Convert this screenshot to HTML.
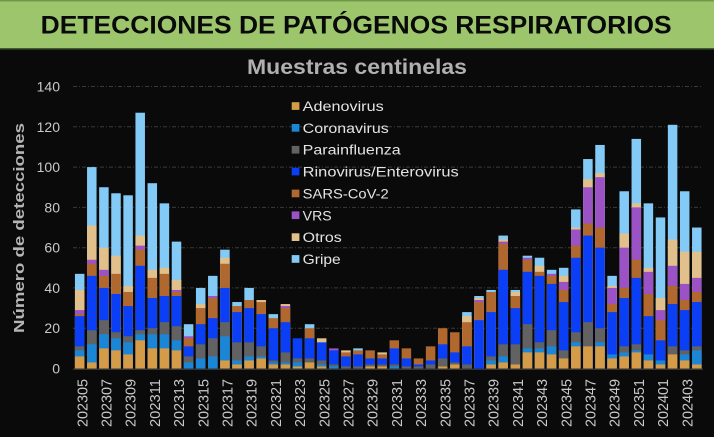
<!DOCTYPE html>
<html><head><meta charset="utf-8">
<style>
html,body{margin:0;padding:0;background:#0a0a0a;}
body{width:714px;height:437px;overflow:hidden;}
svg{display:block;}
.a{fill:#d49c48}.c{fill:#1b86d6}.p{fill:#626262}.r{fill:#0b3ff5}.s{fill:#b0682e}.v{fill:#9b52c4}.o{fill:#e2c08c}.g{fill:#84caf6}
.t{font-family:"Liberation Sans",sans-serif;}
</style></head>
<body>
<svg width="714" height="437" viewBox="0 0 714 437" xmlns="http://www.w3.org/2000/svg">
<rect x="0" y="0" width="714" height="437" fill="#0a0a0a"/>
<rect x="0" y="0" width="714" height="48.5" fill="#9dc66c"/>
<rect x="0" y="0" width="714" height="1.5" fill="#6f9a4b"/>
<rect x="0" y="48" width="714" height="1.5" fill="#3f5c2c"/>
<text class="t" x="40.7" y="33.3" font-size="25" font-weight="bold" fill="#0a0a0a" textLength="631" lengthAdjust="spacingAndGlyphs">DETECCIONES DE PATÓGENOS RESPIRATORIOS</text>
<text class="t" x="247" y="74" font-size="21" font-weight="bold" fill="#b0b0b0" textLength="220" lengthAdjust="spacingAndGlyphs">Muestras centinelas</text>

<g stroke="#3a3a3a" stroke-width="1" stroke-dasharray="4 2 1 2" fill="none">
<line x1="73" y1="86.5" x2="702" y2="86.5"/>
<line x1="73" y1="126.8" x2="702" y2="126.8"/>
<line x1="73" y1="167.1" x2="702" y2="167.1"/>
<line x1="73" y1="207.4" x2="702" y2="207.4"/>
<line x1="73" y1="247.7" x2="702" y2="247.7"/>
<line x1="73" y1="287.9" x2="702" y2="287.9"/>
<line x1="73" y1="328.2" x2="702" y2="328.2"/>
</g>

<g class="t" font-size="14" fill="#c8c8c8" text-anchor="end">
<text x="60" y="91.5">140</text>
<text x="60" y="131.8">120</text>
<text x="60" y="172.1">100</text>
<text x="60" y="212.4">80</text>
<text x="60" y="252.7">60</text>
<text x="60" y="292.9">40</text>
<text x="60" y="333.2">20</text>
<text x="60" y="373.5">0</text>
</g>

<text class="t" transform="translate(24 228) rotate(-90)" text-anchor="middle" font-size="15" font-weight="bold" fill="#b5b5b5" textLength="210" lengthAdjust="spacingAndGlyphs">Número de detecciones</text>

<g transform="translate(74.95 368.5) scale(1 -2.014)">
<rect x="0" width="9.5" height="47" class="g"/><rect x="0" width="9.5" height="39" class="o"/><rect x="0" width="9.5" height="29" class="v"/><rect x="0" width="9.5" height="27" class="s"/><rect x="0" width="9.5" height="26" class="r"/><rect x="0" width="9.5" height="11" class="p"/><rect x="0" width="9.5" height="9" class="c"/><rect x="0" width="9.5" height="6" class="a"/>
<rect x="12.1" width="9.5" height="100" class="g"/><rect x="12.1" width="9.5" height="71" class="o"/><rect x="12.1" width="9.5" height="54" class="v"/><rect x="12.1" width="9.5" height="52" class="s"/><rect x="12.1" width="9.5" height="46" class="r"/><rect x="12.1" width="9.5" height="19" class="p"/><rect x="12.1" width="9.5" height="12" class="c"/><rect x="12.1" width="9.5" height="3" class="a"/>
<rect x="24.2" width="9.5" height="90" class="g"/><rect x="24.2" width="9.5" height="60" class="o"/><rect x="24.2" width="9.5" height="49" class="v"/><rect x="24.2" width="9.5" height="46" class="s"/><rect x="24.2" width="9.5" height="40" class="r"/><rect x="24.2" width="9.5" height="24" class="p"/><rect x="24.2" width="9.5" height="17" class="c"/><rect x="24.2" width="9.5" height="10" class="a"/>
<rect x="36.3" width="9.5" height="87" class="g"/><rect x="36.3" width="9.5" height="56" class="o"/><rect x="36.3" width="9.5" height="47" class="s"/><rect x="36.3" width="9.5" height="37" class="r"/><rect x="36.3" width="9.5" height="18" class="p"/><rect x="36.3" width="9.5" height="15" class="c"/><rect x="36.3" width="9.5" height="9" class="a"/>
<rect x="48.4" width="9.5" height="86" class="g"/><rect x="48.4" width="9.5" height="41" class="o"/><rect x="48.4" width="9.5" height="38" class="s"/><rect x="48.4" width="9.5" height="31" class="r"/><rect x="48.4" width="9.5" height="16" class="p"/><rect x="48.4" width="9.5" height="13" class="c"/><rect x="48.4" width="9.5" height="7" class="a"/>
<rect x="60.5" width="9.5" height="127" class="g"/><rect x="60.5" width="9.5" height="66" class="o"/><rect x="60.5" width="9.5" height="61" class="v"/><rect x="60.5" width="9.5" height="59" class="s"/><rect x="60.5" width="9.5" height="51" class="r"/><rect x="60.5" width="9.5" height="19" class="p"/><rect x="60.5" width="9.5" height="17" class="c"/><rect x="60.5" width="9.5" height="14" class="a"/>
<rect x="72.6" width="9.5" height="92" class="g"/><rect x="72.6" width="9.5" height="49" class="o"/><rect x="72.6" width="9.5" height="45" class="s"/><rect x="72.6" width="9.5" height="35" class="r"/><rect x="72.6" width="9.5" height="20" class="p"/><rect x="72.6" width="9.5" height="17" class="c"/><rect x="72.6" width="9.5" height="10" class="a"/>
<rect x="84.7" width="9.5" height="82" class="g"/><rect x="84.7" width="9.5" height="50" class="o"/><rect x="84.7" width="9.5" height="47" class="s"/><rect x="84.7" width="9.5" height="36" class="r"/><rect x="84.7" width="9.5" height="23" class="p"/><rect x="84.7" width="9.5" height="17" class="c"/><rect x="84.7" width="9.5" height="10" class="a"/>
<rect x="96.8" width="9.5" height="63" class="g"/><rect x="96.8" width="9.5" height="44" class="o"/><rect x="96.8" width="9.5" height="39" class="v"/><rect x="96.8" width="9.5" height="38" class="s"/><rect x="96.8" width="9.5" height="36" class="r"/><rect x="96.8" width="9.5" height="21" class="p"/><rect x="96.8" width="9.5" height="14" class="c"/><rect x="96.8" width="9.5" height="9" class="a"/>
<rect x="108.9" width="9.5" height="22" class="g"/><rect x="108.9" width="9.5" height="16" class="v"/><rect x="108.9" width="9.5" height="15" class="s"/><rect x="108.9" width="9.5" height="11" class="r"/><rect x="108.9" width="9.5" height="6" class="p"/><rect x="108.9" width="9.5" height="3" class="c"/>
<rect x="121" width="9.5" height="40" class="g"/><rect x="121" width="9.5" height="32" class="o"/><rect x="121" width="9.5" height="30" class="s"/><rect x="121" width="9.5" height="22" class="r"/><rect x="121" width="9.5" height="12" class="p"/><rect x="121" width="9.5" height="5" class="c"/>
<rect x="133.1" width="9.5" height="46" class="g"/><rect x="133.1" width="9.5" height="36" class="v"/><rect x="133.1" width="9.5" height="35" class="s"/><rect x="133.1" width="9.5" height="25" class="r"/><rect x="133.1" width="9.5" height="15" class="p"/><rect x="133.1" width="9.5" height="6" class="c"/>
<rect x="145.2" width="9.5" height="59" class="g"/><rect x="145.2" width="9.5" height="55" class="o"/><rect x="145.2" width="9.5" height="52" class="s"/><rect x="145.2" width="9.5" height="40" class="r"/><rect x="145.2" width="9.5" height="23" class="p"/><rect x="145.2" width="9.5" height="16" class="c"/><rect x="145.2" width="9.5" height="4" class="a"/>
<rect x="157.3" width="9.5" height="33" class="g"/><rect x="157.3" width="9.5" height="31" class="s"/><rect x="157.3" width="9.5" height="28" class="r"/><rect x="157.3" width="9.5" height="13" class="p"/><rect x="157.3" width="9.5" height="4" class="c"/><rect x="157.3" width="9.5" height="2" class="a"/>
<rect x="169.4" width="9.5" height="40" class="g"/><rect x="169.4" width="9.5" height="34" class="s"/><rect x="169.4" width="9.5" height="30" class="r"/><rect x="169.4" width="9.5" height="13" class="p"/><rect x="169.4" width="9.5" height="6" class="c"/><rect x="169.4" width="9.5" height="4" class="a"/>
<rect x="181.5" width="9.5" height="34" class="o"/><rect x="181.5" width="9.5" height="33" class="s"/><rect x="181.5" width="9.5" height="27" class="r"/><rect x="181.5" width="9.5" height="11" class="p"/><rect x="181.5" width="9.5" height="6" class="c"/><rect x="181.5" width="9.5" height="5" class="a"/>
<rect x="193.6" width="9.5" height="27" class="g"/><rect x="193.6" width="9.5" height="25" class="s"/><rect x="193.6" width="9.5" height="20" class="r"/><rect x="193.6" width="9.5" height="4" class="p"/><rect x="193.6" width="9.5" height="3" class="c"/><rect x="193.6" width="9.5" height="2" class="a"/>
<rect x="205.7" width="9.5" height="32" class="o"/><rect x="205.7" width="9.5" height="31" class="v"/><rect x="205.7" width="9.5" height="30" class="s"/><rect x="205.7" width="9.5" height="23" class="r"/><rect x="205.7" width="9.5" height="8" class="p"/><rect x="205.7" width="9.5" height="3" class="c"/><rect x="205.7" width="9.5" height="2" class="a"/>
<rect x="217.8" width="9.5" height="15" class="r"/><rect x="217.8" width="9.5" height="5" class="p"/><rect x="217.8" width="9.5" height="3" class="c"/><rect x="217.8" width="9.5" height="1" class="a"/>
<rect x="229.9" width="9.5" height="22" class="g"/><rect x="229.9" width="9.5" height="20" class="s"/><rect x="229.9" width="9.5" height="15" class="r"/><rect x="229.9" width="9.5" height="5" class="p"/><rect x="229.9" width="9.5" height="3" class="a"/>
<rect x="242" width="9.5" height="15" class="o"/><rect x="242" width="9.5" height="13" class="r"/><rect x="242" width="9.5" height="4" class="p"/><rect x="242" width="9.5" height="2" class="c"/><rect x="242" width="9.5" height="1" class="a"/>
<rect x="254.1" width="9.5" height="10" class="v"/><rect x="254.1" width="9.5" height="9" class="r"/><rect x="254.1" width="9.5" height="2" class="p"/><rect x="254.1" width="9.5" height="1" class="c"/>
<rect x="266.2" width="9.5" height="9" class="o"/><rect x="266.2" width="9.5" height="8" class="s"/><rect x="266.2" width="9.5" height="6" class="r"/><rect x="266.2" width="9.5" height="1" class="p"/>
<rect x="278.3" width="9.5" height="10" class="g"/><rect x="278.3" width="9.5" height="9" class="s"/><rect x="278.3" width="9.5" height="7" class="r"/><rect x="278.3" width="9.5" height="1" class="p"/>
<rect x="290.4" width="9.5" height="9" class="s"/><rect x="290.4" width="9.5" height="5" class="r"/><rect x="290.4" width="9.5" height="2" class="p"/><rect x="290.4" width="9.5" height="1" class="a"/>
<rect x="302.5" width="9.5" height="8" class="o"/><rect x="302.5" width="9.5" height="7" class="s"/><rect x="302.5" width="9.5" height="5" class="r"/><rect x="302.5" width="9.5" height="2" class="p"/><rect x="302.5" width="9.5" height="1" class="a"/>
<rect x="314.6" width="9.5" height="14" class="s"/><rect x="314.6" width="9.5" height="10" class="r"/><rect x="314.6" width="9.5" height="2" class="p"/><rect x="314.6" width="9.5" height="1" class="c"/>
<rect x="326.7" width="9.5" height="10" class="s"/><rect x="326.7" width="9.5" height="5" class="r"/><rect x="326.7" width="9.5" height="1" class="p"/>
<rect x="338.8" width="9.5" height="5" class="s"/><rect x="338.8" width="9.5" height="2" class="r"/><rect x="338.8" width="9.5" height="1" class="p"/>
<rect x="350.9" width="9.5" height="11" class="s"/><rect x="350.9" width="9.5" height="4" class="r"/><rect x="350.9" width="9.5" height="2" class="p"/>
<rect x="363" width="9.5" height="20" class="s"/><rect x="363" width="9.5" height="12" class="r"/><rect x="363" width="9.5" height="5" class="p"/><rect x="363" width="9.5" height="1" class="a"/>
<rect x="375.1" width="9.5" height="18" class="s"/><rect x="375.1" width="9.5" height="8" class="r"/><rect x="375.1" width="9.5" height="3" class="p"/><rect x="375.1" width="9.5" height="2" class="a"/>
<rect x="387.2" width="9.5" height="28" class="g"/><rect x="387.2" width="9.5" height="26" class="o"/><rect x="387.2" width="9.5" height="23" class="s"/><rect x="387.2" width="9.5" height="11" class="r"/><rect x="387.2" width="9.5" height="2" class="p"/>
<rect x="399.3" width="9.5" height="36" class="g"/><rect x="399.3" width="9.5" height="35" class="o"/><rect x="399.3" width="9.5" height="34" class="v"/><rect x="399.3" width="9.5" height="33" class="s"/><rect x="399.3" width="9.5" height="24" class="r"/>
<rect x="411.4" width="9.5" height="39" class="g"/><rect x="411.4" width="9.5" height="38" class="s"/><rect x="411.4" width="9.5" height="28" class="r"/><rect x="411.4" width="9.5" height="6" class="p"/><rect x="411.4" width="9.5" height="4" class="c"/><rect x="411.4" width="9.5" height="2" class="a"/>
<rect x="423.5" width="9.5" height="66" class="g"/><rect x="423.5" width="9.5" height="64" class="o"/><rect x="423.5" width="9.5" height="63" class="v"/><rect x="423.5" width="9.5" height="62" class="s"/><rect x="423.5" width="9.5" height="49" class="r"/><rect x="423.5" width="9.5" height="12" class="p"/><rect x="423.5" width="9.5" height="6" class="c"/><rect x="423.5" width="9.5" height="3" class="a"/>
<rect x="435.6" width="9.5" height="39" class="g"/><rect x="435.6" width="9.5" height="38" class="o"/><rect x="435.6" width="9.5" height="36" class="s"/><rect x="435.6" width="9.5" height="30" class="r"/><rect x="435.6" width="9.5" height="12" class="p"/><rect x="435.6" width="9.5" height="2" class="a"/>
<rect x="447.7" width="9.5" height="56" class="g"/><rect x="447.7" width="9.5" height="55" class="v"/><rect x="447.7" width="9.5" height="54" class="s"/><rect x="447.7" width="9.5" height="48" class="r"/><rect x="447.7" width="9.5" height="22" class="p"/><rect x="447.7" width="9.5" height="10" class="c"/><rect x="447.7" width="9.5" height="8" class="a"/>
<rect x="459.8" width="9.5" height="55" class="g"/><rect x="459.8" width="9.5" height="51" class="o"/><rect x="459.8" width="9.5" height="48" class="s"/><rect x="459.8" width="9.5" height="46" class="r"/><rect x="459.8" width="9.5" height="13" class="p"/><rect x="459.8" width="9.5" height="10" class="c"/><rect x="459.8" width="9.5" height="8" class="a"/>
<rect x="471.9" width="9.5" height="49" class="g"/><rect x="471.9" width="9.5" height="47" class="v"/><rect x="471.9" width="9.5" height="46" class="s"/><rect x="471.9" width="9.5" height="42" class="r"/><rect x="471.9" width="9.5" height="19" class="p"/><rect x="471.9" width="9.5" height="11" class="c"/><rect x="471.9" width="9.5" height="7" class="a"/>
<rect x="484" width="9.5" height="50" class="g"/><rect x="484" width="9.5" height="46" class="o"/><rect x="484" width="9.5" height="43" class="v"/><rect x="484" width="9.5" height="39" class="s"/><rect x="484" width="9.5" height="33" class="r"/><rect x="484" width="9.5" height="9" class="p"/><rect x="484" width="9.5" height="5" class="a"/>
<rect x="496.1" width="9.5" height="79" class="g"/><rect x="496.1" width="9.5" height="70" class="o"/><rect x="496.1" width="9.5" height="69" class="v"/><rect x="496.1" width="9.5" height="61" class="s"/><rect x="496.1" width="9.5" height="55" class="r"/><rect x="496.1" width="9.5" height="18" class="p"/><rect x="496.1" width="9.5" height="13" class="c"/><rect x="496.1" width="9.5" height="11" class="a"/>
<rect x="508.2" width="9.5" height="104" class="g"/><rect x="508.2" width="9.5" height="94" class="o"/><rect x="508.2" width="9.5" height="90" class="v"/><rect x="508.2" width="9.5" height="72" class="s"/><rect x="508.2" width="9.5" height="66" class="r"/><rect x="508.2" width="9.5" height="23" class="p"/><rect x="508.2" width="9.5" height="11" class="a"/>
<rect x="520.3" width="9.5" height="111" class="g"/><rect x="520.3" width="9.5" height="97" class="o"/><rect x="520.3" width="9.5" height="95" class="v"/><rect x="520.3" width="9.5" height="70" class="s"/><rect x="520.3" width="9.5" height="60" class="r"/><rect x="520.3" width="9.5" height="20" class="p"/><rect x="520.3" width="9.5" height="13" class="c"/><rect x="520.3" width="9.5" height="11" class="a"/>
<rect x="532.4" width="9.5" height="46" class="g"/><rect x="532.4" width="9.5" height="41" class="o"/><rect x="532.4" width="9.5" height="40" class="v"/><rect x="532.4" width="9.5" height="32" class="s"/><rect x="532.4" width="9.5" height="28" class="r"/><rect x="532.4" width="9.5" height="7" class="c"/><rect x="532.4" width="9.5" height="5" class="a"/>
<rect x="544.5" width="9.5" height="88" class="g"/><rect x="544.5" width="9.5" height="67" class="o"/><rect x="544.5" width="9.5" height="60" class="v"/><rect x="544.5" width="9.5" height="40" class="s"/><rect x="544.5" width="9.5" height="35" class="r"/><rect x="544.5" width="9.5" height="11" class="p"/><rect x="544.5" width="9.5" height="8" class="c"/><rect x="544.5" width="9.5" height="6" class="a"/>
<rect x="556.6" width="9.5" height="114" class="g"/><rect x="556.6" width="9.5" height="82" class="o"/><rect x="556.6" width="9.5" height="80" class="v"/><rect x="556.6" width="9.5" height="54" class="s"/><rect x="556.6" width="9.5" height="45" class="r"/><rect x="556.6" width="9.5" height="12" class="p"/><rect x="556.6" width="9.5" height="9" class="c"/><rect x="556.6" width="9.5" height="8" class="a"/>
<rect x="568.7" width="9.5" height="82" class="g"/><rect x="568.7" width="9.5" height="50" class="o"/><rect x="568.7" width="9.5" height="48" class="v"/><rect x="568.7" width="9.5" height="37" class="s"/><rect x="568.7" width="9.5" height="26" class="r"/><rect x="568.7" width="9.5" height="7" class="c"/><rect x="568.7" width="9.5" height="4" class="a"/>
<rect x="580.8" width="9.5" height="75" class="g"/><rect x="580.8" width="9.5" height="35" class="o"/><rect x="580.8" width="9.5" height="29" class="v"/><rect x="580.8" width="9.5" height="24" class="s"/><rect x="580.8" width="9.5" height="14" class="r"/><rect x="580.8" width="9.5" height="4" class="c"/><rect x="580.8" width="9.5" height="2" class="a"/>
<rect x="592.9" width="9.5" height="121" class="g"/><rect x="592.9" width="9.5" height="64" class="o"/><rect x="592.9" width="9.5" height="51" class="v"/><rect x="592.9" width="9.5" height="41" class="s"/><rect x="592.9" width="9.5" height="32" class="r"/><rect x="592.9" width="9.5" height="11" class="p"/><rect x="592.9" width="9.5" height="7" class="a"/>
<rect x="605" width="9.5" height="88" class="g"/><rect x="605" width="9.5" height="58" class="o"/><rect x="605" width="9.5" height="42" class="v"/><rect x="605" width="9.5" height="34" class="s"/><rect x="605" width="9.5" height="29" class="r"/><rect x="605" width="9.5" height="9" class="p"/><rect x="605" width="9.5" height="7" class="c"/><rect x="605" width="9.5" height="4" class="a"/>
<rect x="617.1" width="9.5" height="70" class="g"/><rect x="617.1" width="9.5" height="58" class="o"/><rect x="617.1" width="9.5" height="45" class="v"/><rect x="617.1" width="9.5" height="38" class="s"/><rect x="617.1" width="9.5" height="33" class="r"/><rect x="617.1" width="9.5" height="11" class="p"/><rect x="617.1" width="9.5" height="9" class="c"/><rect x="617.1" width="9.5" height="2" class="a"/>
</g>

<line x1="73" y1="369.3" x2="703" y2="369.3" stroke="#333" stroke-width="1.5"/>

<g class="t" font-size="15" fill="#c8c8c8" text-anchor="end">
<text transform="translate(87.3 379) rotate(-90)" textLength="48" lengthAdjust="spacingAndGlyphs">202305</text>
<text transform="translate(111.5 379) rotate(-90)" textLength="48" lengthAdjust="spacingAndGlyphs">202307</text>
<text transform="translate(135.7 379) rotate(-90)" textLength="48" lengthAdjust="spacingAndGlyphs">202309</text>
<text transform="translate(159.9 379) rotate(-90)" textLength="48" lengthAdjust="spacingAndGlyphs">202311</text>
<text transform="translate(184.1 379) rotate(-90)" textLength="48" lengthAdjust="spacingAndGlyphs">202313</text>
<text transform="translate(208.3 379) rotate(-90)" textLength="48" lengthAdjust="spacingAndGlyphs">202315</text>
<text transform="translate(232.5 379) rotate(-90)" textLength="48" lengthAdjust="spacingAndGlyphs">202317</text>
<text transform="translate(256.7 379) rotate(-90)" textLength="48" lengthAdjust="spacingAndGlyphs">202319</text>
<text transform="translate(280.9 379) rotate(-90)" textLength="48" lengthAdjust="spacingAndGlyphs">202321</text>
<text transform="translate(305.1 379) rotate(-90)" textLength="48" lengthAdjust="spacingAndGlyphs">202323</text>
<text transform="translate(329.3 379) rotate(-90)" textLength="48" lengthAdjust="spacingAndGlyphs">202325</text>
<text transform="translate(353.5 379) rotate(-90)" textLength="48" lengthAdjust="spacingAndGlyphs">202327</text>
<text transform="translate(377.7 379) rotate(-90)" textLength="48" lengthAdjust="spacingAndGlyphs">202329</text>
<text transform="translate(401.9 379) rotate(-90)" textLength="48" lengthAdjust="spacingAndGlyphs">202331</text>
<text transform="translate(426.1 379) rotate(-90)" textLength="48" lengthAdjust="spacingAndGlyphs">202333</text>
<text transform="translate(450.3 379) rotate(-90)" textLength="48" lengthAdjust="spacingAndGlyphs">202335</text>
<text transform="translate(474.5 379) rotate(-90)" textLength="48" lengthAdjust="spacingAndGlyphs">202337</text>
<text transform="translate(498.7 379) rotate(-90)" textLength="48" lengthAdjust="spacingAndGlyphs">202339</text>
<text transform="translate(522.9 379) rotate(-90)" textLength="48" lengthAdjust="spacingAndGlyphs">202341</text>
<text transform="translate(547.1 379) rotate(-90)" textLength="48" lengthAdjust="spacingAndGlyphs">202343</text>
<text transform="translate(571.3 379) rotate(-90)" textLength="48" lengthAdjust="spacingAndGlyphs">202345</text>
<text transform="translate(595.5 379) rotate(-90)" textLength="48" lengthAdjust="spacingAndGlyphs">202347</text>
<text transform="translate(619.7 379) rotate(-90)" textLength="48" lengthAdjust="spacingAndGlyphs">202349</text>
<text transform="translate(643.9 379) rotate(-90)" textLength="48" lengthAdjust="spacingAndGlyphs">202351</text>
<text transform="translate(668.1 379) rotate(-90)" textLength="48" lengthAdjust="spacingAndGlyphs">202401</text>
<text transform="translate(692.3 379) rotate(-90)" textLength="48" lengthAdjust="spacingAndGlyphs">202403</text>
</g>

<g>
<rect x="291.7" y="102.2" width="7.7" height="7.7" class="a"/>
<rect x="291.7" y="124" width="7.7" height="7.7" class="c"/>
<rect x="291.7" y="145.9" width="7.7" height="7.7" class="p"/>
<rect x="291.7" y="167.7" width="7.7" height="7.7" class="r"/>
<rect x="291.7" y="189.6" width="7.7" height="7.7" class="s"/>
<rect x="291.7" y="211.4" width="7.7" height="7.7" class="v"/>
<rect x="291.7" y="233.3" width="7.7" height="7.7" class="o"/>
<rect x="291.7" y="255.1" width="7.7" height="7.7" class="g"/>
</g>
<g class="t" font-size="13.5" fill="#e4e4e4">
<text x="302.7" y="111" textLength="81" lengthAdjust="spacingAndGlyphs">Adenovirus</text>
<text x="302.7" y="132.9" textLength="86" lengthAdjust="spacingAndGlyphs">Coronavirus</text>
<text x="302.7" y="154.7" textLength="98" lengthAdjust="spacingAndGlyphs">Parainfluenza</text>
<text x="302.7" y="176.6" textLength="156" lengthAdjust="spacingAndGlyphs">Rinovirus/Enterovirus</text>
<text x="302.7" y="198.4" textLength="86" lengthAdjust="spacingAndGlyphs">SARS-CoV-2</text>
<text x="302.7" y="220.3" textLength="29" lengthAdjust="spacingAndGlyphs">VRS</text>
<text x="302.7" y="242.1" textLength="39" lengthAdjust="spacingAndGlyphs">Otros</text>
<text x="302.7" y="264" textLength="38" lengthAdjust="spacingAndGlyphs">Gripe</text>
</g>
</svg>
</body></html>
